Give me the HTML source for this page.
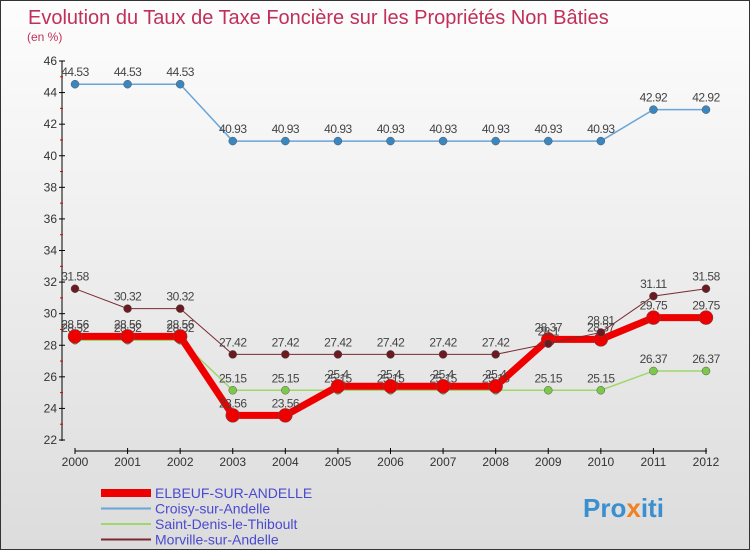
<!DOCTYPE html>
<html><head><meta charset="utf-8"><style>
body{margin:0}
#c{width:748px;height:548px;border:1px solid #333;position:relative;overflow:hidden;background:linear-gradient(#fdfdfd,#dcdcdc);font-family:"Liberation Sans",sans-serif}
</style></head><body>
<div id="c">
<svg id="s" width="748" height="548" xmlns="http://www.w3.org/2000/svg">
<text x="27" y="23" font-size="20" fill="#c0305a">Evolution du Taux de Taxe Foncière sur les Propriétés Non Bâties</text>
<text x="26" y="40" font-size="12" fill="#c0305a">(en %)</text>
<g id="grid"></g><g id="axes"></g><g id="series"></g><g id="legend"></g>
<text x="582" y="516" font-size="26" font-weight="bold" fill="#3a8fd0">Pro<tspan fill="#f08020">x</tspan>iti</text>
</svg>
</div>
<script>
const years=[2000,2001,2002,2003,2004,2005,2006,2007,2008,2009,2010,2011,2012];
const yTicks=[22,24,26,28,30,32,34,36,38,40,42,44,46];
const elbeuf=[28.56,28.56,28.56,23.56,23.56,25.4,25.4,25.4,25.4,28.37,28.37,29.75,29.75];
const croisy=[44.53,44.53,44.53,40.93,40.93,40.93,40.93,40.93,40.93,40.93,40.93,42.92,42.92];
const stdenis=[28.32,28.32,28.32,25.15,25.15,25.15,25.15,25.15,25.15,25.15,25.15,26.37,26.37];
const morville=[31.58,30.32,30.32,27.42,27.42,27.42,27.42,27.42,27.42,28.1,28.81,31.11,31.58];
const names=["ELBEUF-SUR-ANDELLE","Croisy-sur-Andelle","Saint-Denis-le-Thiboult","Morville-sur-Andelle"];
const NS="http://www.w3.org/2000/svg";
const x=i=>74+i*(705-74)/(years.length-1);
const y=v=>439-(v-22)*(439-60)/24;
function mk(t,a,p){const e=document.createElementNS(NS,t);for(const k in a)e.setAttribute(k,a[k]);(p||document.getElementById('series')).appendChild(e);return e;}
const ax=document.getElementById('axes');
let l=mk('line',{x1:61,y1:60,x2:61,y2:440,stroke:'#000'},ax);

yTicks.forEach(v=>{mk('line',{x1:58,x2:64,y1:y(v),y2:y(v),stroke:'#000'},ax);
if(v<46)mk('line',{x1:59,x2:62,y1:y(v+1),y2:y(v+1),stroke:'#d00'},ax);
const t=mk('text',{x:56,y:y(v)+4,'text-anchor':'end','font-size':12,fill:'#333'},ax);t.textContent=v;
});
const xa=mk('line',{x1:74,x2:706,y1:450,y2:450,stroke:'#000'},ax);

years.forEach((yr,i)=>{mk('line',{x1:x(i),x2:x(i),y1:447,y2:453,stroke:'#000'},ax);
const t=mk('text',{x:x(i),y:465,'text-anchor':'middle','font-size':12,fill:'#333'},ax);t.textContent=yr;
});
function series(d,col,w,r,name,dot){
 const g=mk('g',{});
 mk('polyline',{points:d.map((v,i)=>x(i)+','+y(v)).join(' '),fill:'none',stroke:col,'stroke-width':w},g);
 d.forEach((v,i)=>{const c=mk('circle',{cx:x(i),cy:y(v),r:r,fill:dot,stroke:'#555','stroke-width':0.5},g);
 
 const t=mk('text',{x:x(i),y:y(v)-8,'text-anchor':'middle','font-size':12,fill:'#444','letter-spacing':'-0.5'},g);t.textContent=v;});
}
series(croisy,'#6aa4d8',1.5,4,'croisy','#3a86c0');
series(stdenis,'#9ed86a',1.5,4,'saint-denis','#7cc84a');
series(elbeuf,'#ee0000',7,7,'elbeuf','#ee0000');
series(morville,'#7a2a30',1,4,'morville','#6a1a20');
const cols=[['#ee0000',8],['#6aa4d8',2],['#9ed86a',2],['#7a2a30',2]];
const lg=document.getElementById('legend');
names.forEach((n,i)=>{const yy=492+i*15.5;
 const g=mk('g',{},lg);
 mk('line',{x1:100,x2:150,y1:yy,y2:yy,stroke:cols[i][0],'stroke-width':cols[i][1]},g);
 const t=mk('text',{x:154,y:yy+5,'font-size':14,fill:'#4a4ad0'},g);t.textContent=n;});
</script>
</body></html>
